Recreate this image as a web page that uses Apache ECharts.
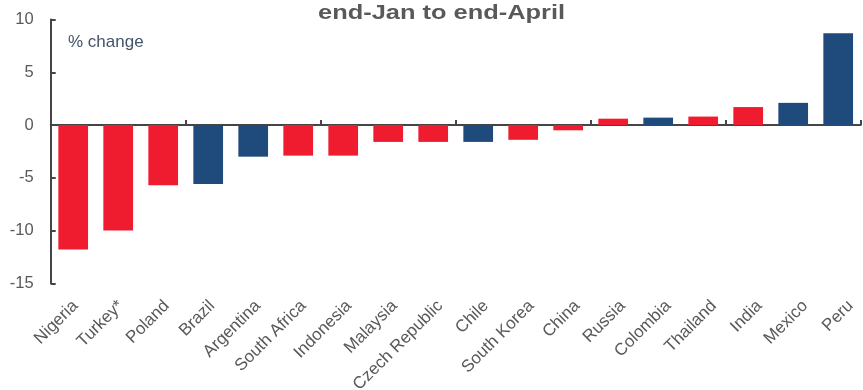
<!DOCTYPE html>
<html>
<head>
<meta charset="utf-8">
<script src="https://cdn.jsdelivr.net/npm/echarts@6/dist/echarts.min.js"></script>
<style>
html,body{margin:0;padding:0;background:#fff;}
#chart{width:863px;height:390px;}
</style>
</head>
<body>
<div id="chart"></div>
<script>
const categories = ['Nigeria','Turkey*','Poland','Brazil','Argentina','South Africa','Indonesia','Malaysia','Czech Republic','Chile','South Korea','China','Russia','Colombia','Thailand','India','Mexico','Peru'];
const values = [-11.8, -10.0, -5.7, -5.6, -3.0, -2.9, -2.9, -1.6, -1.6, -1.6, -1.4, -0.5, 0.6, 0.7, 0.8, 1.7, 2.1, 8.7];
const blueCountries = ['Brazil','Argentina','Chile','Colombia','Mexico','Peru'];
const yTicks = [-15, -10, -5, 0, 5, 10];
const titleText = 'end-Jan to end-April';
const unitText = '% change';

const RED = '#EE1C2E', BLUE = '#1F4A7C';
const FONT = '"Liberation Sans", Arial, sans-serif';
const axisColor = '#454545';

const chart = echarts.init(document.getElementById('chart'), null, {renderer:'canvas'});
const barData = values.map((v, i) => ({
  value: v,
  itemStyle: { color: blueCountries.includes(categories[i]) ? BLUE : RED }
}));

chart.setOption({
  animation: false,
  backgroundColor: '#ffffff',
  grid: [
    { left: 50.7, right: 2.3, top: 19.5, bottom: 106.7, containLabel: false, outerBoundsMode: 'none' },
    { left: 52.5, right: -10.5, top: 19.5, bottom: 106.7, containLabel: false, outerBoundsMode: 'none' }
  ],
  graphic: [
    { type: 'text', x: 318, y: 13.5, scaleX: 1.21, scaleY: 1,
      style: { text: titleText, font: 'bold 21px ' + FONT, fill: '#595959', verticalAlign: 'middle', align: 'left' } },
    { type: 'text', x: 68, y: 42.5,
      style: { text: unitText, font: '17px ' + FONT, fill: '#44546A', verticalAlign: 'middle', align: 'left' } }
  ],
  xAxis: [
    {
      type: 'category', data: categories, position: 'bottom', gridIndex: 0,
      axisLine: { show: true, onZero: true, lineStyle: { color: axisColor, width: 2 } },
      axisTick: { show: true, inside: true, length: 5, lineStyle: { color: axisColor, width: 2 } },
      axisLabel: { show: false },
      splitLine: { show: false }
    },
    {
      type: 'category', data: categories, position: 'bottom', gridIndex: 1,
      axisLine: { show: false, onZero: false },
      axisTick: { show: false },
      axisLabel: { show: true, rotate: 45, margin: 20, fontSize: 17, fontFamily: FONT, color: '#595959', interval: 0, hideOverlap: false },
      splitLine: { show: false }
    }
  ],
  yAxis: [
    {
      type: 'value', gridIndex: 0, min: yTicks[0], max: yTicks[yTicks.length - 1], interval: 5,
      axisLine: { show: true, lineStyle: { color: axisColor, width: 2 } },
      axisTick: { show: true, inside: true, length: 5, lineStyle: { color: axisColor, width: 2 } },
      axisLabel: { margin: 17, fontSize: 16.5, fontFamily: FONT, color: '#595959' },
      splitLine: { show: false }
    },
    {
      type: 'value', gridIndex: 1, min: yTicks[0], max: yTicks[yTicks.length - 1], interval: 5, show: false
    }
  ],
  series: [{
    type: 'bar', xAxisIndex: 0, yAxisIndex: 0, data: barData, barCategoryGap: '34%'
  }]
});
</script>
</body>
</html>
